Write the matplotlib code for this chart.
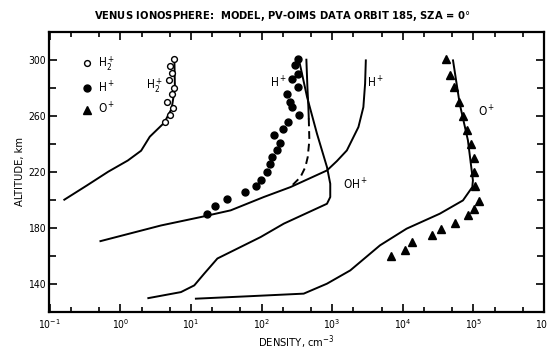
import matplotlib
matplotlib.use("Agg")
import matplotlib.pyplot as plt
from matplotlib.ticker import LogLocator, FixedLocator, NullFormatter
from matplotlib.lines import Line2D

plt.rcParams['font.family'] = ['Liberation Sans Narrow', 'DejaVu Sans']
plt.rcParams['font.stretch'] = 'condensed'
plt.rcParams['mathtext.fontset'] = 'custom'
plt.rcParams['mathtext.rm'] = 'Liberation Sans Narrow'
plt.rcParams['mathtext.it'] = 'Liberation Sans Narrow'
plt.rcParams['mathtext.bf'] = 'Liberation Sans Narrow:bold'

# ---- data ----
h2_model_alt = [200, 210, 220, 228, 235, 245, 255, 265, 280, 300]
h2_model_den = [0.16, 0.33, 0.67, 1.27, 1.96, 2.6, 4.17, 5.3, 5.9, 5.8]

h2_data_alt = [300.7, 295.4, 290.7, 285.7, 280, 275.2, 269.7, 265.7, 260.4, 255.2]
h2_data_den = [5.66, 5.0, 5.3, 4.9, 5.8, 5.4, 4.6, 5.6, 5.0, 4.3]

hp_data_alt = [300.7, 296, 290, 286.4, 280.4, 275.2, 269.7, 266, 260.2, 255.4, 250.2,
               245.9, 240.7, 235.2, 230.4, 225.2, 219.7, 214.3, 209.5, 205.2, 200.2,
               195.2, 190]
hp_data_den = [328, 301, 328, 270, 324, 230, 256, 273, 335, 234, 202,
               152, 181, 166, 141, 131, 120, 98.7, 82, 58, 32,
               21.9, 16.6]

hp_model_alt = [299.5, 282.9, 266.1, 251.9, 235.2, 227.6, 220.9, 209, 201.9, 192.4, 187.6, 181.6, 170.4]
hp_model_den = [2990, 2920, 2760, 2350, 1610, 1164, 842, 256, 107, 36.4, 13.7, 3.75, 0.52]

hp_alt_solid_alt = [300, 280, 266.1, 258]
hp_alt_solid_den = [430, 445, 459, 465]
hp_alt_dash_alt = [258, 242.4, 230.4, 223.3, 216.1, 209]
hp_alt_dash_den = [465, 474, 449, 416, 354, 256]

ohp_model_alt = [300.7, 273.3, 247.1, 223.3, 211.4, 201.9, 197.1, 182.9, 173.3, 158, 147.1, 138.8, 134, 129.7]
ohp_model_den = [335, 440, 608, 842, 937, 937, 842, 206, 96.5, 23.6, 15.3, 11.1, 7.18, 2.48]

op_model_alt = [299.5, 268.6, 242.4, 213.8, 209, 199.5, 190, 179.3, 167.4, 149.5, 140, 132.9, 131.1, 129.3]
op_model_den = [51400, 63900, 83600, 98400, 96400, 71100, 33400, 11300, 4750, 1800, 841, 394, 69.7, 11.7]

op_data_alt = [300.2, 289.3, 280.4, 269.7, 259.5, 249.5, 239.5, 229.7, 219.7, 209.7, 198.8,
               193.6, 189.3, 183.6, 179.3, 175, 169.7, 164.3, 159.5]
op_data_den = [40500, 46100, 52600, 62400, 71100, 80900, 93400, 100600, 101600, 106400, 118400,
               101600, 83600, 54800, 35200, 25500, 13700, 10700, 6800]

legend_labels = ['H$_2^+$', 'H$^+$', 'O$^+$']
y_major = [140, 180, 220, 260, 300]
y_minor = [120, 160, 200, 240, 280, 320]

# ---- figure ----
fig = plt.figure(figsize=(5.47, 3.55), dpi=100)
ax = fig.add_axes([48.5 / 547, 1 - 311.7 / 355, (544 - 48.5) / 547, 280 / 355])

lw = 1.4
ax.plot(h2_model_den, h2_model_alt, color='black', lw=lw)
ax.plot(hp_model_den, hp_model_alt, color='black', lw=lw)
ax.plot(hp_alt_solid_den, hp_alt_solid_alt, color='black', lw=lw)
ax.plot(hp_alt_dash_den, hp_alt_dash_alt, color='black', lw=lw, ls=(0, (4, 2.5)))
ax.plot(ohp_model_den, ohp_model_alt, color='black', lw=lw)
ax.plot(op_model_den, op_model_alt, color='black', lw=lw)

ax.plot(h2_data_den, h2_data_alt, ls='none', marker='o', ms=4.2, mfc='white', mec='black', mew=1.0)
ax.plot(hp_data_den, hp_data_alt, ls='none', marker='o', ms=5, mfc='black', mec='black')
ax.plot(op_data_den, op_data_alt, ls='none', marker='^', ms=5.5, mfc='black', mec='black')

ax.set_xscale('log')
ax.set_xlim(10 ** -1.02, 10 ** 6.0)
ax.set_ylim(120, 320)

ax.xaxis.set_major_locator(LogLocator(base=10, numticks=20))
ax.xaxis.set_minor_locator(LogLocator(base=10, subs=(2, 5), numticks=20))
ax.xaxis.set_minor_formatter(NullFormatter())
ax.yaxis.set_major_locator(FixedLocator(y_major))
ax.yaxis.set_minor_locator(FixedLocator(y_minor))

ax.tick_params(which='both', direction='in', top=True, right=True, width=1.2)
ax.tick_params(axis='y', labelsize=7.5, pad=2)
ax.tick_params(axis='x', labelsize=7.5, pad=4)
ax.tick_params(which='major', length=6)
ax.tick_params(which='minor', length=3.5)
ax.tick_params(axis='y', which='minor', length=5)
for s in ax.spines.values():
    s.set_linewidth(1.6)

ax.set_xlabel('DENSITY, cm$^{-3}$', fontsize=8, labelpad=2)
ax.set_ylabel('ALTITUDE, km', fontsize=8, labelpad=2)
fig.suptitle('VENUS IONOSPHERE:  MODEL, PV-OIMS DATA ORBIT 185, SZA = 0$\\degree$',
             x=0.515, y=0.975, fontsize=8, fontweight='bold')

# curve labels
ax.text(3.0, 281.6, 'H$_2^+$', fontsize=8.5, ha='center', va='center')
ax.text(175, 283.3, 'H$^+$', fontsize=8.5, ha='center', va='center')
ax.text(4130, 283.3, 'H$^+$', fontsize=8.5, ha='center', va='center')
ax.text(1440, 210.2, 'OH$^+$', fontsize=8.5, ha='left', va='center')
ax.text(115600, 263, 'O$^+$', fontsize=8.5, ha='left', va='center')

handles = [
    Line2D([], [], ls='none', marker='o', ms=4.2, mfc='white', mec='black', mew=1.0),
    Line2D([], [], ls='none', marker='o', ms=5, mfc='black', mec='black'),
    Line2D([], [], ls='none', marker='^', ms=5.5, mfc='black', mec='black'),
]
ax.legend(handles, legend_labels, loc='upper left', bbox_to_anchor=(0.066, 0.918),
          frameon=False, fontsize=8.5, handlelength=1.0, handletextpad=0.4,
          labelspacing=0.55, borderaxespad=0, borderpad=0)

fig.savefig('out.png', dpi=100)
